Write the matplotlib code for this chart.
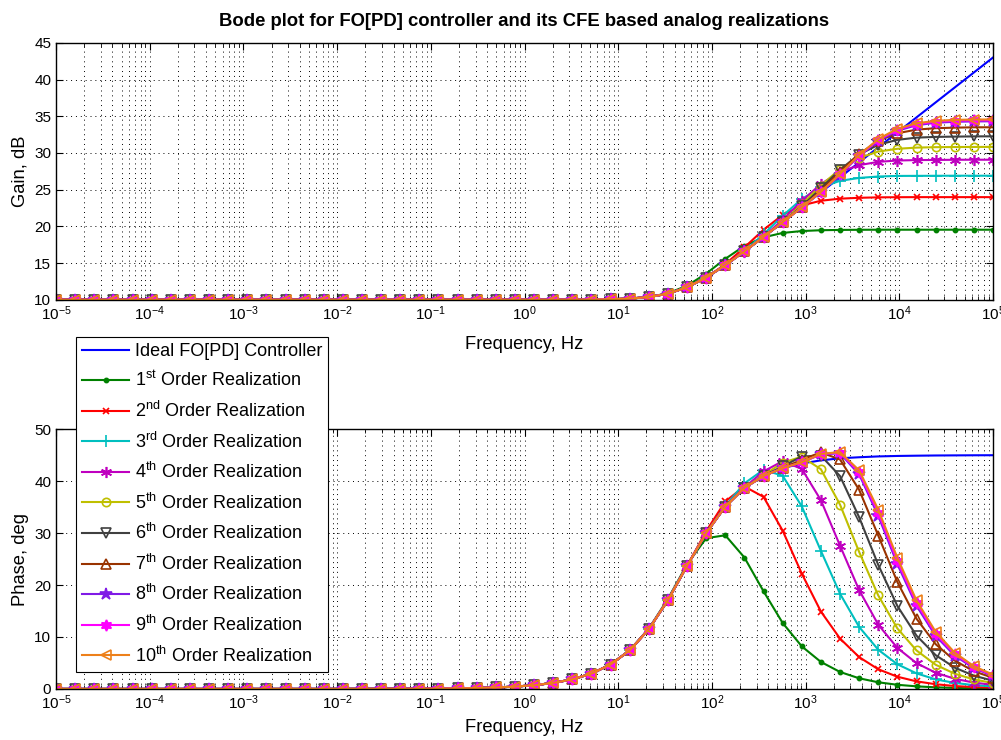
import matplotlib.pyplot as plt
import numpy as np
from matplotlib.ticker import LogLocator, MultipleLocator, NullFormatter

plt.rcParams['font.family'] = ['Liberation Sans', 'DejaVu Sans']
plt.rcParams['mathtext.fontset'] = 'custom'
plt.rcParams['mathtext.rm'] = 'Liberation Sans'
plt.rcParams['mathtext.it'] = 'Liberation Sans:italic'
plt.rcParams['mathtext.bf'] = 'Liberation Sans:bold'

# frequency grid of the markers (50 points, 1e-5 .. 1e5 Hz)
freq = np.logspace(-5, 5, 50)

# low-frequency part, all curves coincide there (first 30 points)
gain_low = [10.00, 10.00, 10.00, 10.00, 10.00, 10.00, 10.00, 10.00, 10.00, 10.00,
            10.00, 10.00, 10.00, 10.00, 10.00, 10.00, 10.00, 10.00, 10.00, 10.00,
            10.00, 10.00, 10.00, 10.00, 10.00, 10.00, 10.00, 10.01, 10.02, 10.06]
phase_low = [0.00, 0.00, 0.00, 0.00, 0.00, 0.00, 0.00, 0.00, 0.00, 0.00,
             0.00, 0.00, 0.00, 0.00, 0.00, 0.01, 0.01, 0.02, 0.03, 0.04,
             0.07, 0.11, 0.18, 0.28, 0.45, 0.72, 1.16, 1.85, 2.95, 4.70]

# gain, dB (remaining 20 points)
gain_ideal = gain_low + [10.15, 10.36, 10.82, 11.69, 13.02, 14.70, 16.59, 18.56, 20.58, 22.61,
                         24.64, 26.68, 28.72, 30.77, 32.81, 34.85, 36.89, 38.93, 40.97, 43.01]
gain_o1 = gain_low + [10.15, 10.37, 10.88, 11.90, 13.56, 15.57, 17.34, 18.50, 19.10, 19.36,
                      19.47, 19.51, 19.53, 19.54, 19.54, 19.54, 19.54, 19.54, 19.54, 19.54]
gain_o2 = gain_low + [10.15, 10.36, 10.82, 11.69, 13.02, 14.84, 17.13, 19.54, 21.55, 22.84,
                      23.49, 23.77, 23.89, 23.95, 23.97, 23.98, 23.98, 23.98, 23.98, 23.98]
gain_o3 = gain_low + [10.15, 10.36, 10.82, 11.69, 13.02, 14.67, 16.62, 18.91, 21.44, 23.72,
                      25.31, 26.20, 26.60, 26.79, 26.87, 26.88, 26.89, 26.90, 26.90, 26.90]
gain_o4 = gain_low + [10.15, 10.36, 10.82, 11.69, 13.02, 14.70, 16.56, 18.57, 20.90, 23.45,
                      25.77, 27.42, 28.34, 28.79, 28.97, 29.03, 29.05, 29.07, 29.08, 29.08]
gain_o5 = gain_low + [10.15, 10.36, 10.82, 11.69, 13.02, 14.70, 16.59, 18.52, 20.61, 23.00,
                      25.56, 27.81, 29.34, 30.19, 30.57, 30.73, 30.79, 30.81, 30.82, 30.83]
gain_o6 = gain_low + [10.15, 10.36, 10.82, 11.69, 13.02, 14.70, 16.59, 18.56, 20.54, 22.71,
                      25.19, 27.72, 29.79, 31.12, 31.79, 32.09, 32.19, 32.23, 32.26, 32.27]
gain_o7 = gain_low + [10.15, 10.36, 10.82, 11.69, 13.02, 14.70, 16.59, 18.56, 20.55, 22.59,
                      24.88, 27.45, 29.86, 31.66, 32.69, 33.18, 33.38, 33.45, 33.50, 33.50]
gain_o8 = gain_low + [10.15, 10.36, 10.82, 11.69, 13.02, 14.70, 16.59, 18.56, 20.58, 22.57,
                      24.66, 27.05, 29.57, 31.66, 33.03, 33.78, 34.12, 34.25, 34.30, 34.32]
gain_o9 = gain_low + [10.15, 10.36, 10.82, 11.69, 13.02, 14.70, 16.59, 18.56, 20.58, 22.57,
                      24.68, 27.10, 29.65, 31.78, 33.18, 33.93, 34.26, 34.39, 34.44, 34.45]
gain_o10 = gain_low + [10.15, 10.36, 10.82, 11.69, 13.02, 14.70, 16.59, 18.56, 20.58, 22.57,
                       24.70, 27.15, 29.72, 31.89, 33.31, 34.05, 34.38, 34.51, 34.56, 34.57]

# phase, deg (remaining 20 points)
phase_ideal = phase_low + [7.42, 11.50, 17.09, 23.69, 30.00, 35.10, 38.70, 41.00, 42.50, 43.40,
                           44.00, 44.40, 44.60, 44.76, 44.85, 44.90, 44.94, 44.96, 44.98, 44.99]
phase_o1 = phase_low + [7.45, 11.61, 17.34, 23.98, 29.02, 29.58, 25.30, 18.80, 12.70, 8.20,
                        5.20, 3.27, 2.05, 1.28, 0.80, 0.50, 0.31, 0.20, 0.12, 0.08]
phase_o2 = phase_low + [7.42, 11.50, 17.09, 23.69, 30.37, 36.10, 38.97, 36.97, 30.47, 22.20,
                        14.90, 9.70, 6.13, 3.79, 2.35, 1.46, 0.91, 0.56, 0.36, 0.23]
phase_o3 = phase_low + [7.42, 11.50, 17.09, 23.69, 30.00, 35.25, 39.58, 42.19, 41.05, 35.14,
                        26.58, 18.33, 11.94, 7.54, 4.75, 3.00, 1.84, 1.16, 0.73, 0.49]
phase_o4 = phase_low + [7.42, 11.50, 17.09, 23.69, 30.00, 35.10, 38.80, 41.87, 43.85, 42.35,
                        36.33, 27.58, 19.02, 12.37, 7.89, 4.97, 3.12, 1.96, 1.22, 0.79]
phase_o5 = phase_low + [7.42, 11.50, 17.09, 23.69, 30.00, 35.10, 38.70, 41.17, 43.55, 44.71,
                        42.29, 35.48, 26.37, 17.99, 11.65, 7.41, 4.66, 2.93, 1.83, 1.14]
phase_o6 = phase_low + [7.42, 11.50, 17.09, 23.69, 30.00, 35.10, 38.70, 41.00, 42.86, 44.74,
                        44.91, 40.98, 33.05, 23.87, 15.96, 10.26, 6.51, 4.10, 2.55, 1.59]
phase_o7 = phase_low + [7.42, 11.50, 17.09, 23.69, 30.00, 35.10, 38.70, 41.00, 42.50, 44.14,
                        45.53, 44.17, 38.34, 29.52, 20.57, 13.52, 8.62, 5.45, 3.41, 2.14]
phase_o8 = phase_low + [7.42, 11.50, 17.09, 23.69, 30.00, 35.10, 38.70, 41.00, 42.50, 43.60,
                        45.15, 45.35, 41.30, 33.30, 24.00, 16.00, 10.20, 6.40, 4.00, 2.50]
phase_o9 = phase_low + [7.42, 11.50, 17.09, 23.69, 30.00, 35.10, 38.70, 41.00, 42.50, 43.62,
                        45.20, 45.50, 41.70, 33.90, 24.60, 16.50, 10.60, 6.70, 4.20, 2.60]
phase_o10 = phase_low + [7.42, 11.50, 17.09, 23.69, 30.00, 35.10, 38.70, 41.00, 42.50, 43.65,
                         45.25, 45.60, 42.08, 34.51, 25.23, 17.03, 11.00, 6.98, 4.38, 2.75]

labels = ['Ideal FO[PD] Controller',
          r'1$^{\rm st}$ Order Realization', r'2$^{\rm nd}$ Order Realization',
          r'3$^{\rm rd}$ Order Realization', r'4$^{\rm th}$ Order Realization',
          r'5$^{\rm th}$ Order Realization', r'6$^{\rm th}$ Order Realization',
          r'7$^{\rm th}$ Order Realization', r'8$^{\rm th}$ Order Realization',
          r'9$^{\rm th}$ Order Realization', r'10$^{\rm th}$ Order Realization']
gains = [gain_ideal, gain_o1, gain_o2, gain_o3, gain_o4, gain_o5,
         gain_o6, gain_o7, gain_o8, gain_o9, gain_o10]
phases = [phase_ideal, phase_o1, phase_o2, phase_o3, phase_o4, phase_o5,
          phase_o6, phase_o7, phase_o8, phase_o9, phase_o10]

# (color, marker, size, filled)
styles = [((0, 0, 1), None, 0, True),
          ((0, 0.5, 0), '.', 6, True),
          ((1, 0, 0), 'x', 5, True),
          ((0, 0.75, 0.75), '+', 8, True),
          ((0.75, 0, 0.75), (6, 2, 0), 8, True),
          ((0.75, 0.75, 0), 'o', 6, False),
          ((0.25, 0.25, 0.25), 'v', 7, False),
          ((0.6, 0.2, 0), '^', 7, False),
          ((0.5, 0.1, 0.9), '*', 9, True),
          ((1, 0, 1), (6, 1, 0), 8, True),
          ((0.93, 0.5, 0.1), '<', 7, False)]

fig = plt.figure(figsize=(10.01, 7.40), dpi=100)
ax1 = fig.add_axes([0.056, 0.595, 0.936, 0.347])
ax2 = fig.add_axes([0.056, 0.069, 0.936, 0.351])

for ax, data, lpad in [(ax1, gains, 9), (ax2, phases, 5)]:
    for vals, lab, (col, mk, ms, filled) in zip(data, labels, styles):
        ax.semilogx(freq, vals, color=col, lw=1.5, marker=mk, markersize=ms,
                    markerfacecolor=col if filled else 'none',
                    markeredgecolor=col, markeredgewidth=1.2, label=lab)
    ax.set_xlim(1e-5, 1e5)
    ax.xaxis.set_major_locator(LogLocator(base=10, numticks=20))
    ax.xaxis.set_minor_locator(LogLocator(base=10, subs=np.arange(2, 10), numticks=200))
    ax.xaxis.set_minor_formatter(NullFormatter())
    ax.tick_params(which='both', direction='in', top=True, right=True, labelsize=11)
    ax.tick_params(which='major', length=5)
    ax.tick_params(which='minor', length=3)
    ax.grid(True, which='major', linestyle=(0, (1, 4)), color='k', lw=0.7)
    ax.xaxis.grid(True, which='minor', linestyle=(0, (1, 4)), color='k', lw=0.7)
    ax.set_xlabel('Frequency, Hz', fontsize=13.2, labelpad=lpad)
    for sp in ax.spines.values():
        sp.set_linewidth(1.0)

ax1.set_ylim(10, 45)
ax1.yaxis.set_major_locator(MultipleLocator(5))
ax1.set_ylabel('Gain, dB', fontsize=13.2)
ax1.set_title('Bode plot for FO[PD] controller and its CFE based analog realizations',
              fontsize=13.3, fontweight='bold', pad=12)

ax2.set_ylim(0, 50)
ax2.yaxis.set_major_locator(MultipleLocator(10))
ax2.set_ylabel('Phase, deg', fontsize=13.2)

handles, labs = ax2.get_legend_handles_labels()
leg = fig.legend(handles, labs, loc='upper left', bbox_to_anchor=(76 / 1001, 1 - 337 / 740),
                 bbox_transform=fig.transFigure, fontsize=13, frameon=True, fancybox=False,
                 edgecolor='k', framealpha=1, handlelength=2.6, labelspacing=0.58,
                 borderpad=0.35, handletextpad=0.3, borderaxespad=0)
leg.get_frame().set_linewidth(0.8)

plt.savefig('out.png', dpi=100)
